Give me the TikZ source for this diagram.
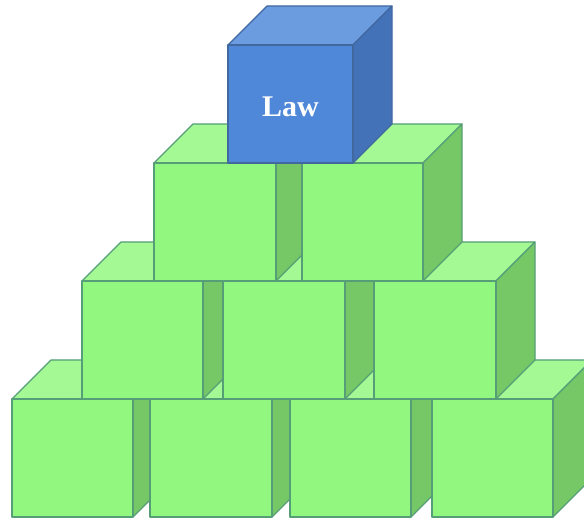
\documentclass[tikz,border=0pt]{standalone}
\usepackage{fontspec}
\setmainfont{Liberation Serif}
\definecolor{greenfront}{HTML}{91F77E}
\definecolor{greentop}{HTML}{A5F994}
\definecolor{greenside}{HTML}{76C866}
\definecolor{greenedge}{HTML}{559E78}
\definecolor{bluefront}{HTML}{4F88D8}
\definecolor{bluetop}{HTML}{6C9CE0}
\definecolor{blueside}{HTML}{4472B8}
\definecolor{blueedge}{HTML}{41689F}
\tikzset{
    face/.style={draw=greenedge,line width=1.1pt,line join=round},
    fronthue/.style={fill=greenfront},
    tophue/.style={fill=greentop},
    sidehue/.style={fill=greenside},
    bluecube/.style={fronthue/.style={fill=bluefront},tophue/.style={fill=bluetop},
        sidehue/.style={fill=blueside},face/.append style={draw=blueedge}},
    pics/cube/.style={code={
        \filldraw[face,tophue] (0,0) -- (39,-39) -- (#1+39,-39) -- (#1,0) -- cycle;
        \filldraw[face,sidehue] (#1,0) -- (#1+39,-39) -- (#1+39,79) -- (#1,118) -- cycle;
        \filldraw[face,fronthue] (0,0) rectangle (#1,118);
    }}
}

\begin{document}
\begin{tikzpicture}[x=1pt,y=-1pt]
    \clip (0,0) rectangle (584,518);
    \fill[white] (0,0) rectangle (584,518);
    % bottom row
    \pic at (12,399) {cube=121};
    \pic at (150,399) {cube=122};
    \pic at (290,399) {cube=121};
    \pic at (432,399) {cube=121};
    % second row
    \pic at (82,281) {cube=121};
    \pic at (223,281) {cube=122};
    \pic at (374,281) {cube=122};
    % third row
    \pic at (154,163) {cube=122};
    \pic at (302,163) {cube=121};
    % top
    \pic[bluecube] at (228,45) {cube=125};
    \node[text=white,font=\bfseries\fontsize{30}{30}\selectfont] (law) at (290.5,107) {Law};
\end{tikzpicture}
\end{document}
